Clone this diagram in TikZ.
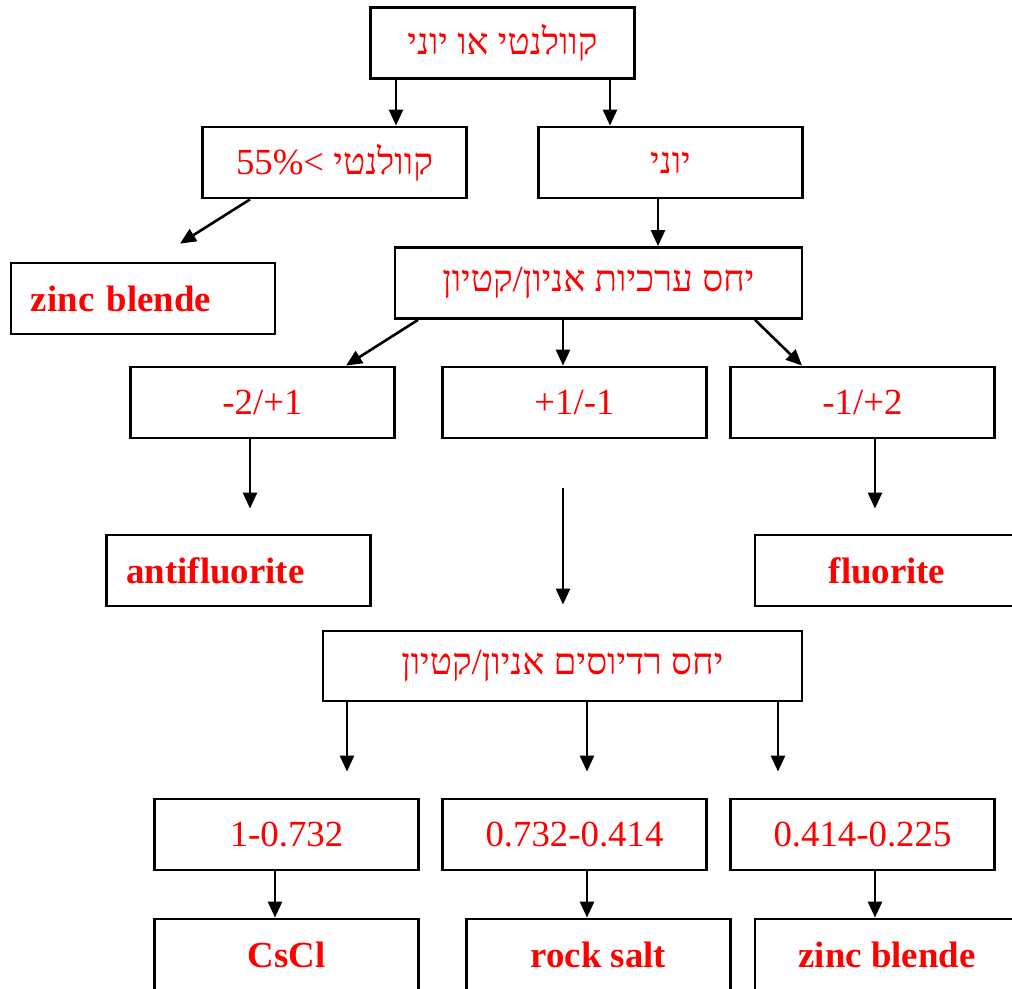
\documentclass[tikz,border=0pt]{standalone}
\usepackage{fontspec}
\setmainfont{Liberation Serif}
\newfontfamily\hebfont[Script=Hebrew]{Liberation Serif}
\TeXXeTstate=1
\usepackage{tikz}
\usetikzlibrary{arrows.meta,calc}

\begin{document}
\begin{tikzpicture}[x=0.5pt,y=-0.5pt,
        box/.style={draw,line width=1.4pt,minimum width=132pt,minimum height=35.5pt,inner sep=0pt,
          text=red,font=\fontsize{18.4}{22}\selectfont},
        endbox/.style={box,font=\fontsize{18.4}{22}\selectfont\bfseries},
        leftbox/.style={endbox,align=left,text width=112pt,inner xsep=10pt},
        arr/.style={-{Triangle[length=8pt,width=7pt]},line width=1.3pt}]
        \useasboundingbox (0,0) rectangle (1012,989);
        \clip (0,0) rectangle (1012,989);
        % first question
        \node[box] (top) at (502.5,43) {\hebfont\beginR קוולנטי או יוני\endR};
        \node[box] (cov) at (334.5,162.5) {55\%< {\hebfont\beginR קוולנטי\endR}};
        \node[box] (ion) at (670.5,162.5) {\hebfont\beginR יוני\endR};
        \node[leftbox] (zb1) at (143,298.5) {zinc blende};
        % valence ratio
        \node[box,minimum width=203.5pt] (val) at (598.5,283) {\hebfont\beginR יחס ערכיות אניון/קטיון\endR};
        \node[box] (m21) at (262.5,402.5) {-2/+1};
        \node[box] (p11) at (574.5,402.5) {+1/-1};
        \node[box] (m12) at (862.5,402.5) {-1/+2};
        \node[leftbox] (anti) at (238.5,570.5) {antifluorite};
        \node[endbox] (fl) at (887,570.5) {fluorite};
        % radius ratio
        \node[box,minimum width=239.5pt,minimum height=35pt] (rad) at (562.5,666) {\hebfont\beginR יחס רדיוסים אניון/קטיון\endR};
        \node[box] (r1) at (286.5,834.5) {1-0.732};
        \node[box] (r2) at (574.5,834.5) {0.732-0.414};
        \node[box] (r3) at (862.5,834.5) {0.414-0.225};
        \node[endbox] (cs) at (286.5,954.5) {CsCl};
        \node[endbox] (rs) at (598.5,954.5) {rock salt};
        \node[endbox] (zb2) at (887,954.5) {zinc blende};

        \draw[arr] (top.south -| 396,0) -- (cov.north -| 396,0);
        \draw[arr] (top.south -| 610,0) -- (ion.north -| 610,0);
        \draw[arr] (cov.south -| 250,0) -- ($(zb1.north)+(37,-18)$);
        \draw[arr] (ion.south -| 658,0) -- (val.north -| 658,0);
        \draw[arr] (val.south -| 418,0) -- ($(m21.north)+(83.5,0)$);
        \draw[arr] (val.south -| 563,0) -- (p11.north -| 563,0);
        \draw[arr] (val.south -| 755,0) -- ($(m12.north)+(-60.5,0)$);
        \draw[arr,shorten >=12.5pt] (m21.south -| 250,0) -- (anti.north -| 250,0);
        \draw[arr,shorten <=24.5pt,shorten >=12.5pt] (p11.south -| 563,0) -- (rad.north -| 563,0);
        \draw[arr,shorten >=12.5pt] (m12.south -| 875,0) -- (fl.north -| 875,0);
        \foreach \xx/\to in {347/r1,587/r2,778/r3}{
          \draw[arr,shorten >=13pt] (rad.south -| \xx,0) -- (\to.north -| \xx,0);
        }
        \foreach \xx/\from/\to in {275/r1/cs,587/r2/rs,875/r3/zb2}{
          \draw[arr] (\from.south -| \xx,0) -- (\to.north -| \xx,0);
        }
      \end{tikzpicture}
\end{document}
